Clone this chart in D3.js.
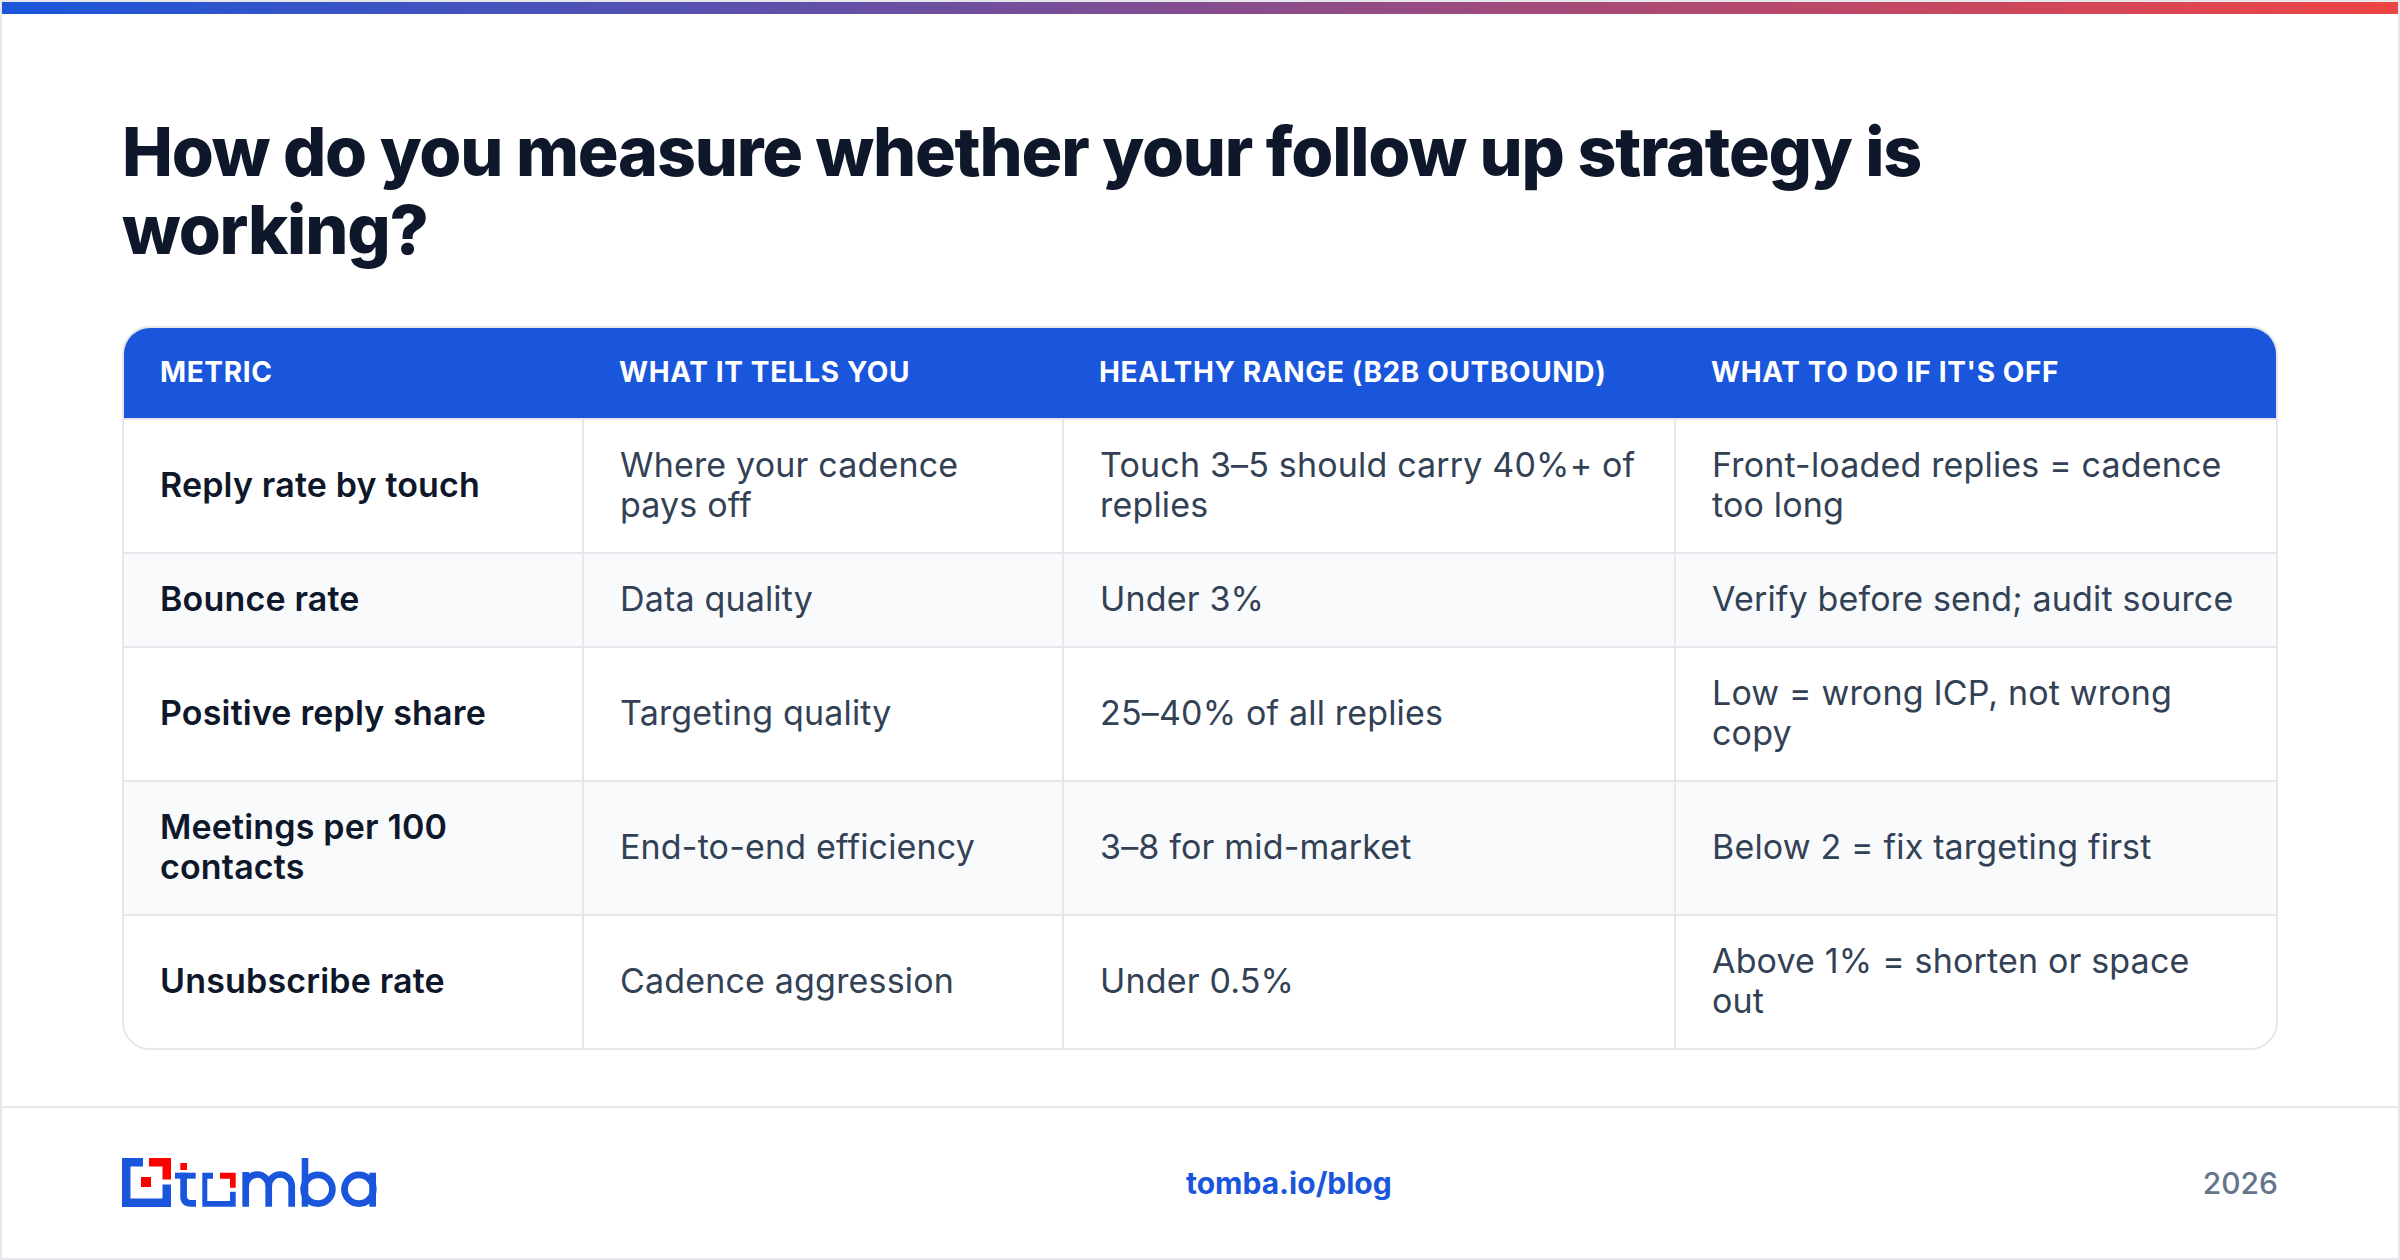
<!DOCTYPE html>
<html>
<head>
<meta charset="utf-8">
<script src="https://cdn.jsdelivr.net/npm/d3@7.9.0/dist/d3.min.js"></script>
<style>
  * { box-sizing: border-box; }
  html, body { margin: 0; padding: 0; background: #fff; }
  body { width: 2400px; height: 1260px; position: relative; overflow: hidden; font-family: Inter, sans-serif; }
  #frame { position: absolute; inset: 0; border: 2px solid #e5e7eb; }
  #bar { height: 12px; background: linear-gradient(90deg, #1a56db, #ef4444); }
  h1 { position: absolute; left: 122px; top: 112px; width: 2100px; margin: 0; font-size: 68px; line-height: 78px; font-weight: 800; letter-spacing: -1.2px; color: #0f172a; }
  #wrap { position: absolute; left: 122px; top: 326px; width: 2156px; border: 2px solid #e5e7eb; border-radius: 28px; overflow: hidden; }
  table { width: 100%; border-collapse: collapse; table-layout: fixed; }
  th { background: #1a56db; color: #fff; font-size: 28px; font-weight: 700; letter-spacing: 0.62px; text-align: left; padding: 0 36px 2px; height: 91px; }
  td { font-size: 34px; line-height: 40px; letter-spacing: 0.17px; color: #334155; padding: 25px 36px 27px; border-top: 2px solid #e5e7eb; border-left: 2px solid #e5e7eb; }
  td:first-child { border-left: none; font-weight: 600; color: #0f172a; }
  tr:nth-child(even) td { background: #f8fafc; }
  #rule { position: absolute; left: 2px; right: 2px; top: 1106px; height: 2px; background: #e5e7eb; }
  #link { position: absolute; left: 1186px; top: 1165px; font-size: 30px; font-weight: 700; color: #1a56db; }
  #year { position: absolute; right: 122px; top: 1165px; font-size: 30px; font-weight: 500; color: #64748b; }
  #logo { position: absolute; left: 0; top: 0; }
</style>
</head>
<body>
<div id="frame"><div id="bar"></div></div>
<h1 id="title"></h1>
<div id="wrap"><table><colgroup id="cols"></colgroup><thead><tr id="head"></tr></thead><tbody id="rows"></tbody></table></div>
<div id="rule"></div>
<svg id="logo" width="2400" height="1260"></svg>
<div id="link"></div>
<div id="year"></div>
<script>
const titleText = 'How do you measure whether your follow up strategy is working?';
const headers = ['METRIC', 'WHAT IT TELLS YOU', 'HEALTHY RANGE (B2B OUTBOUND)', "WHAT TO DO IF IT'S OFF"];
const metrics = ['Reply rate by touch', 'Bounce rate', 'Positive reply share', 'Meetings per 100 contacts', 'Unsubscribe rate'];
const tells = ['Where your cadence pays off', 'Data quality', 'Targeting quality', 'End-to-end efficiency', 'Cadence aggression'];
const ranges = ['Touch 3–5 should carry 40%+ of replies', 'Under 3%', '25–40% of all replies', '3–8 for mid-market', 'Under 0.5%'];
const actions = ['Front-loaded replies = cadence too long', 'Verify before send; audit source', 'Low = wrong ICP, not wrong copy', 'Below 2 = fix targeting first', 'Above 1% = shorten or space out'];
const footerLink = 'tomba.io/blog';
const footerYear = '2026';

const colWidths = [459, 480, 612, 601];

d3.select('#title').text(titleText);
d3.select('#cols').selectAll('col').data(colWidths).join('col').style('width', d => d + 'px');
d3.select('#head').selectAll('th').data(headers).join('th').text(d => d);

const rows = d3.select('#rows').selectAll('tr')
  .data(metrics.map((m, i) => [m, tells[i], ranges[i], actions[i]]))
  .join('tr');
rows.selectAll('td').data(d => d).join('td').text(d => d);

d3.select('#link').text(footerLink);
d3.select('#year').text(footerYear);

// logo, traced from the footer
const blue = '#1a56db', red = '#ff0000';
const logo = d3.select('#logo');

const filled = [
  ['M122,1158H143V1166.5H130.5V1198.5H162.5V1184.5H171V1207H122Z', blue],
  ['M149,1158H171V1179.5H162.5V1166.5H149Z', red],
  ['M141,1177H151V1187H141Z', red],
  ['M180.3,1163H187V1170H180.3Z', red],
  ['M175,1172.7H195.7V1178.7H175Z', blue],
  ['M202.3,1172.7H213V1178.7H207.3V1201H230V1191.7H235.7V1206.7H202.3Z', blue],
  ['M220,1172.7H235.7V1187.7H230V1178.7H220Z', red],
  ['M301.7,1158H308.3V1206.7H301.7Z', blue],
  ['M369.3,1172.7H376V1206.7H369.3Z', blue],
];
logo.selectAll('path.fill').data(filled).join('path')
  .attr('class', 'fill')
  .attr('d', d => d[0])
  .attr('fill', d => d[1]);

const stroked = [
  'M183.6,1172.7V1196Q183.6,1203.4 191,1203.4H196',
  'M245.7,1172V1206.7M245.7,1186A11.5,11.5 0 0 1 268.7,1186V1206.7M268.7,1186A11.5,11.5 0 0 1 291.7,1186V1206.7',
];
logo.selectAll('path.line').data(stroked).join('path')
  .attr('class', 'line')
  .attr('d', d => d)
  .attr('fill', 'none')
  .attr('stroke', blue)
  .attr('stroke-width', 6.7);

logo.selectAll('circle').data([[318, 1189.2], [358.9, 1189.2]]).join('circle')
  .attr('cx', d => d[0])
  .attr('cy', d => d[1])
  .attr('r', 14.4)
  .attr('fill', 'none')
  .attr('stroke', blue)
  .attr('stroke-width', 6.7);
</script>
</body>
</html>
